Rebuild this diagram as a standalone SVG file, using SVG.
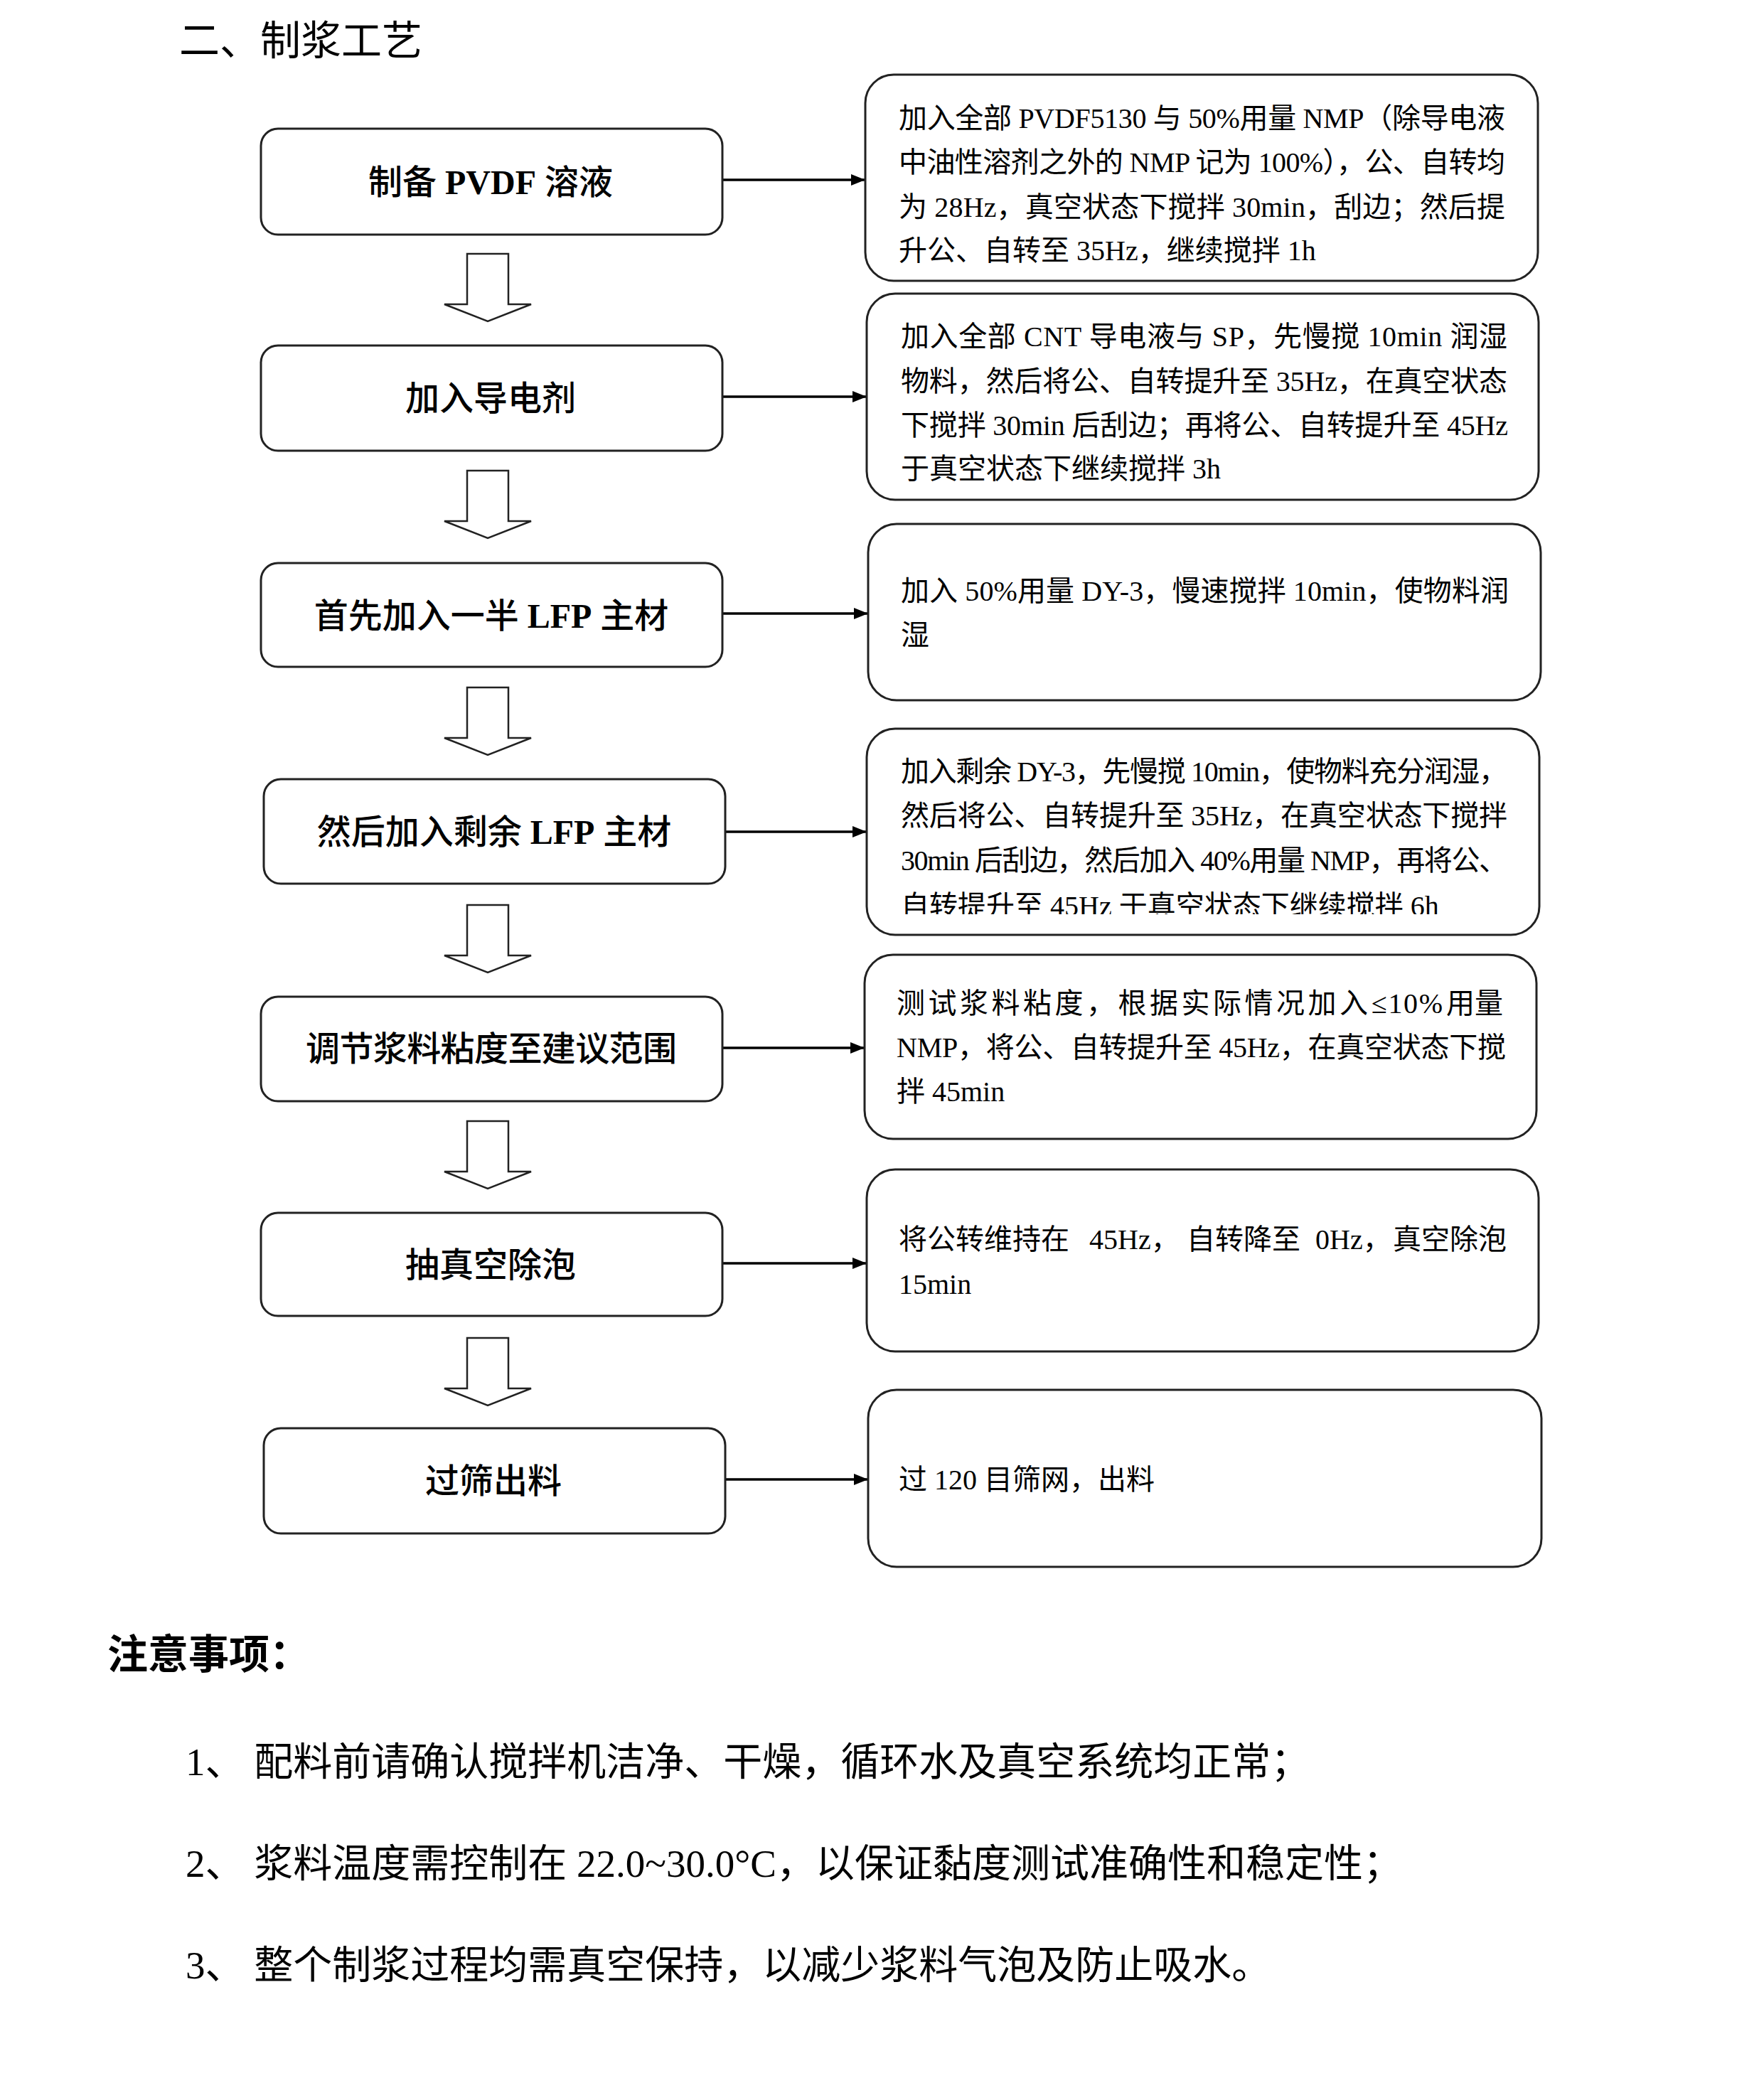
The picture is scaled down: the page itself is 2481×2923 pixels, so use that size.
<svg xmlns="http://www.w3.org/2000/svg" width="2481" height="2923" viewBox="0 0 2481 2923">
<style>
text{font-family:"Liberation Serif","Noto Sans CJK SC",serif;fill:#000}
.title{font-size:57px}
.lbl{font-size:48px;text-anchor:middle;font-weight:500}
.b{font-weight:bold}
.desc{font-size:40px}
.nh{font-size:57px;font-weight:bold}
.note{font-size:55px}
.lbox{fill:#fff;stroke:#222;stroke-width:3}
.rbox{fill:#fff;stroke:#222;stroke-width:3}
.down{fill:#fff;stroke:#222;stroke-width:2.5;stroke-linejoin:miter}
.conn{stroke:#000;stroke-width:3.5;fill:none}
</style>
<defs>
<marker id="ah" markerUnits="userSpaceOnUse" markerWidth="20" markerHeight="16" refX="20" refY="8" orient="auto">
<path d="M0,0 L20,8 L0,16 Z" fill="#000"/>
</marker>
<polygon id="darr" points="657,0 715,0 715,71 747,71 686,95 625,71 657,71"/>
<clipPath id="clip4"><rect x="1219" y="1025" width="946" height="261"/></clipPath>
</defs>

<rect width="2481" height="2923" fill="#fff"/>

<text class="title" x="252" y="77">二、制浆工艺</text>

<g id="connectors">
<line class="conn" x1="1016" y1="253" x2="1217" y2="253" marker-end="url(#ah)"/>
<line class="conn" x1="1016" y1="558" x2="1219" y2="558" marker-end="url(#ah)"/>
<line class="conn" x1="1016" y1="863" x2="1221" y2="863" marker-end="url(#ah)"/>
<line class="conn" x1="1020" y1="1170" x2="1219" y2="1170" marker-end="url(#ah)"/>
<line class="conn" x1="1016" y1="1474" x2="1216" y2="1474" marker-end="url(#ah)"/>
<line class="conn" x1="1016" y1="1777" x2="1219" y2="1777" marker-end="url(#ah)"/>
<line class="conn" x1="1020" y1="2081" x2="1221" y2="2081" marker-end="url(#ah)"/>
<use href="#darr" class="down" y="357"/>
<use href="#darr" class="down" y="662"/>
<use href="#darr" class="down" y="967"/>
<use href="#darr" class="down" y="1273"/>
<use href="#darr" class="down" y="1577"/>
<use href="#darr" class="down" y="1882"/>
</g>

<g id="step1">
<rect class="lbox" x="367" y="181" width="649" height="149" rx="24"/>
<text class="lbl" x="690" y="273">制备 <tspan class="b">PVDF</tspan> 溶液</text>
</g>
<g id="step2">
<rect class="lbox" x="367" y="486" width="649" height="148" rx="24"/>
<text class="lbl" x="690" y="577">加入导电剂</text>
</g>
<g id="step3">
<rect class="lbox" x="367" y="792" width="649" height="146" rx="24"/>
<text class="lbl" x="691" y="883">首先加入一半 <tspan class="b">LFP</tspan> 主材</text>
</g>
<g id="step4">
<rect class="lbox" x="371" y="1096" width="649" height="147" rx="24"/>
<text class="lbl" x="695" y="1187">然后加入剩余 <tspan class="b">LFP</tspan> 主材</text>
</g>
<g id="step5">
<rect class="lbox" x="367" y="1402" width="649" height="147" rx="24"/>
<text class="lbl" x="691" y="1492" textLength="522" lengthAdjust="spacing">调节浆料粘度至建议范围</text>
</g>
<g id="step6">
<rect class="lbox" x="367" y="1706" width="649" height="145" rx="24"/>
<text class="lbl" x="690" y="1796">抽真空除泡</text>
</g>
<g id="step7">
<rect class="lbox" x="371" y="2009" width="649" height="148" rx="24"/>
<text class="lbl" x="694" y="2100">过筛出料</text>
</g>

<g id="detail1">
<rect class="rbox" x="1217" y="105" width="946" height="290" rx="40"/>
<text class="desc" x="1264" y="180" textLength="853" lengthAdjust="spacing">加入全部 PVDF5130 与 50%用量 NMP（除导电液</text>
<text class="desc" x="1264" y="242" textLength="853" lengthAdjust="spacing">中油性溶剂之外的 NMP 记为 100%），公、自转均</text>
<text class="desc" x="1264" y="305" textLength="853" lengthAdjust="spacing">为 28Hz，真空状态下搅拌 30min，刮边；然后提</text>
<text class="desc" x="1264" y="366">升公、自转至 35Hz，继续搅拌 1h</text>
</g>
<g id="detail2">
<rect class="rbox" x="1219" y="413" width="945" height="290" rx="40"/>
<text class="desc" x="1267" y="487" textLength="853" lengthAdjust="spacing">加入全部 CNT 导电液与 SP，先慢搅 10min 润湿</text>
<text class="desc" x="1267" y="550" textLength="853" lengthAdjust="spacing">物料，然后将公、自转提升至 35Hz，在真空状态</text>
<text class="desc" x="1267" y="612" textLength="854" lengthAdjust="spacing">下搅拌 30min 后刮边；再将公、自转提升至 45Hz</text>
<text class="desc" x="1267" y="673">于真空状态下继续搅拌 3h</text>
</g>
<g id="detail3">
<rect class="rbox" x="1221" y="737" width="946" height="248" rx="40"/>
<text class="desc" x="1267" y="845" textLength="855" lengthAdjust="spacing">加入 50%用量 DY-3，慢速搅拌 10min，使物料润</text>
<text class="desc" x="1267" y="907">湿</text>
</g>
<g id="detail4">
<rect class="rbox" x="1219" y="1025" width="946" height="290" rx="40"/>
<g clip-path="url(#clip4)">
<text class="desc" x="1267" y="1099" textLength="853" lengthAdjust="spacing">加入剩余 DY-3，先慢搅 10min，使物料充分润湿，</text>
<text class="desc" x="1267" y="1161" textLength="853" lengthAdjust="spacing">然后将公、自转提升至 35Hz，在真空状态下搅拌</text>
<text class="desc" x="1267" y="1224" textLength="853" lengthAdjust="spacing">30min 后刮边，然后加入 40%用量 NMP，再将公、</text>
<text class="desc" x="1267" y="1288">自转提升至 45Hz 于真空状态下继续搅拌 6h</text>
</g>
</g>
<g id="detail5">
<rect class="rbox" x="1216" y="1343" width="945" height="259" rx="40"/>
<text class="desc" y="1425"><tspan x="1261" textLength="663" lengthAdjust="spacing">测试浆料粘度，根据实际情况加入</tspan><tspan x="1929" textLength="100" lengthAdjust="spacing">≤10%</tspan><tspan x="2034">用量</tspan></text>
<text class="desc" x="1261" y="1487" textLength="857" lengthAdjust="spacing">NMP，将公、自转提升至 45Hz，在真空状态下搅</text>
<text class="desc" x="1261" y="1549">拌 45min</text>
</g>
<g id="detail6">
<rect class="rbox" x="1219" y="1645" width="945" height="256" rx="40"/>
<text class="desc" y="1757"><tspan x="1264">将公转维持在</tspan><tspan x="1532">45Hz，</tspan><tspan x="1669">自转降至</tspan><tspan x="1850">0Hz，</tspan><tspan x="1959">真空除泡</tspan></text>
<text class="desc" x="1264" y="1820">15min</text>
</g>
<g id="detail7">
<rect class="rbox" x="1221" y="1955" width="947" height="249" rx="40"/>
<text class="desc" x="1264" y="2095">过 120 目筛网，出料</text>
</g>

<g id="notes">
<text class="nh" x="151" y="2347">注意事项：</text>
<text class="note" x="261" y="2497">1、 配料前请确认搅拌机洁净、干燥，循环水及真空系统均正常；</text>
<text class="note" x="261" y="2640">2、 浆料温度需控制在 22.0~30.0°C，以保证黏度测试准确性和稳定性；</text>
<text class="note" x="261" y="2783">3、 整个制浆过程均需真空保持，以减少浆料气泡及防止吸水。</text>
</g>
</svg>
